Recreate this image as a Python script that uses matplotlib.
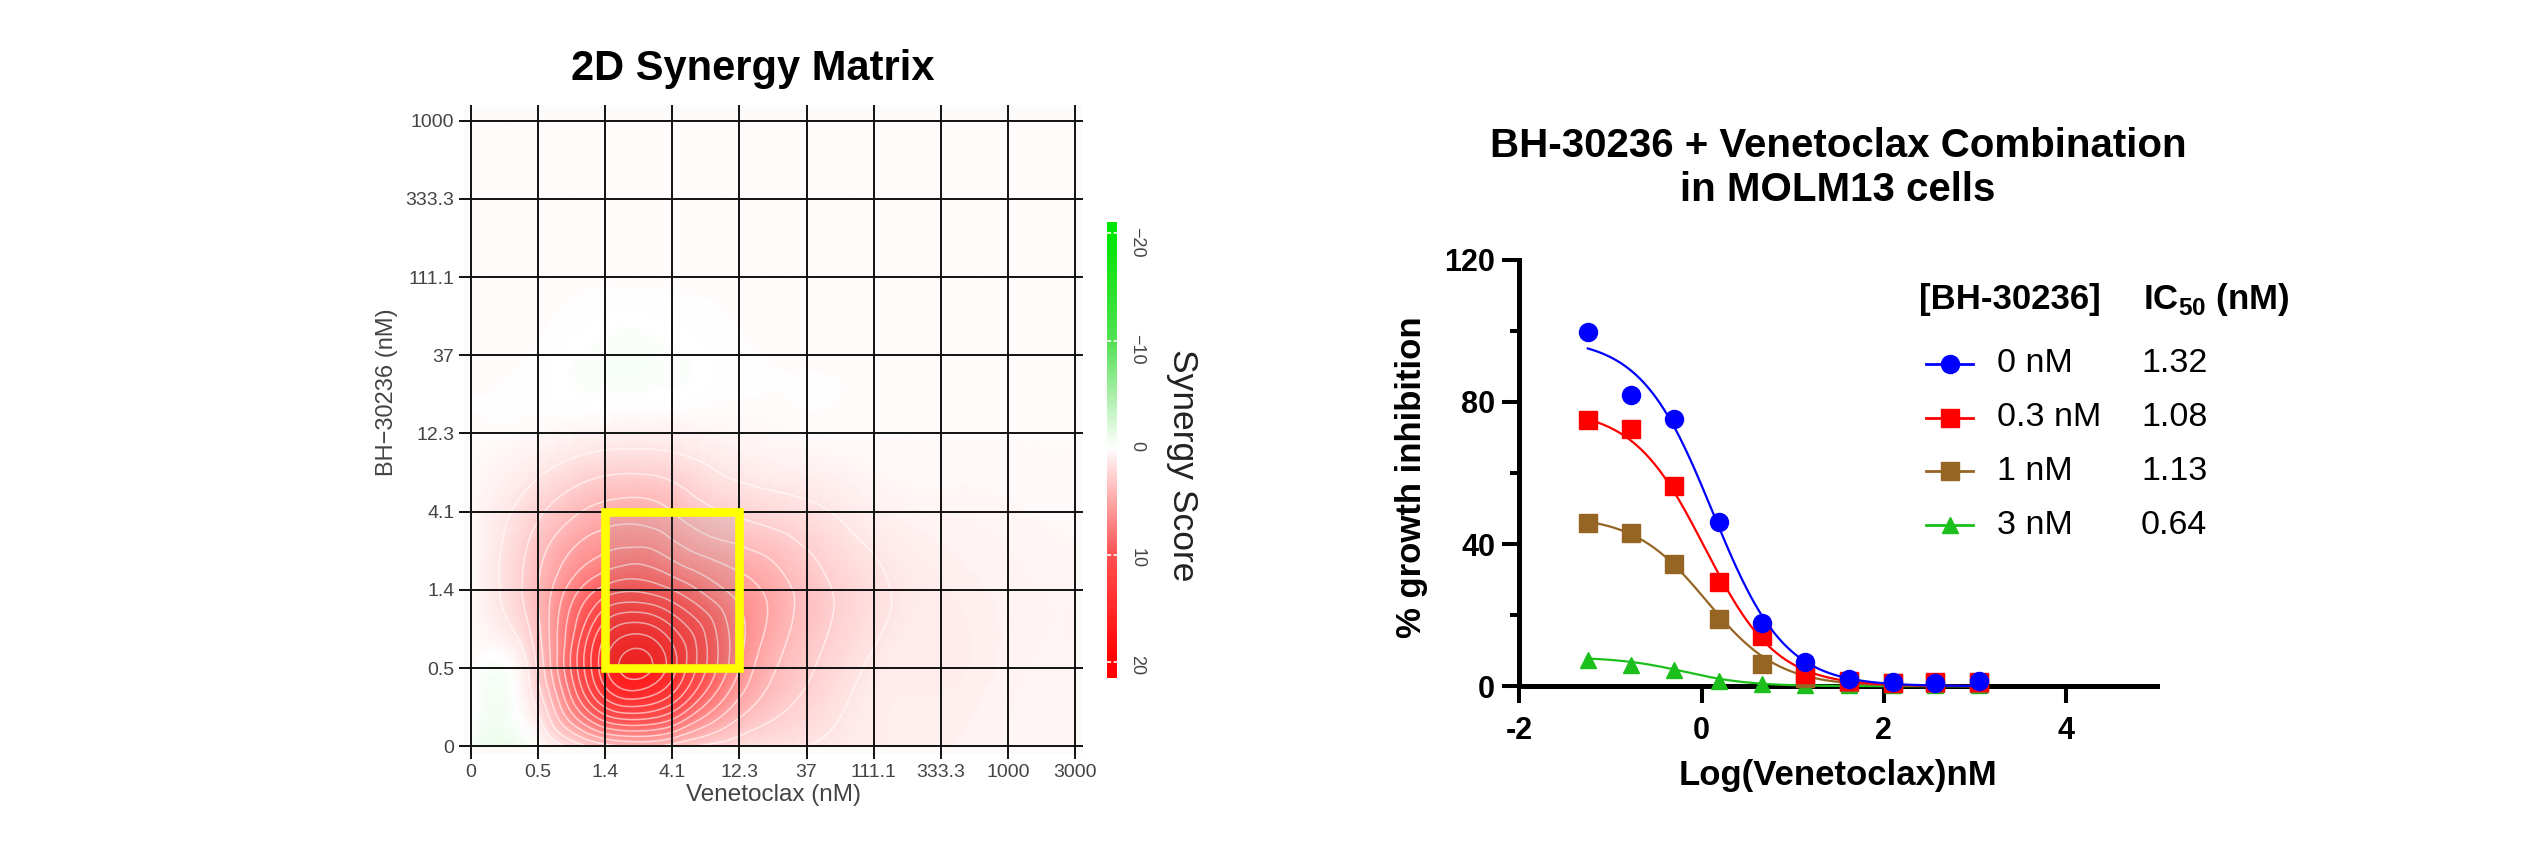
import numpy as np
import matplotlib
matplotlib.use('Agg')
import matplotlib.pyplot as plt
import matplotlib.tri as mtri
from matplotlib.colors import LinearSegmentedColormap
from matplotlib.patches import Rectangle
from matplotlib.lines import Line2D

plt.rcParams['font.family'] = ['Liberation Sans', 'DejaVu Sans']
plt.rcParams['mathtext.fontset'] = 'custom'
plt.rcParams['mathtext.rm'] = 'Liberation Sans'
plt.rcParams['mathtext.bf'] = 'Liberation Sans:bold'

# ---- 2D synergy matrix (left) ----
venetoclax_labels = ['0', '0.5', '1.4', '4.1', '12.3', '37', '111.1', '333.3', '1000', '3000']
bh_labels = ['0', '0.5', '1.4', '4.1', '12.3', '37', '111.1', '333.3', '1000']
# rows = BH-30236 dose (bottom to top), columns = Venetoclax dose
synergy = np.array([
    [-0.4, 0.0, 3.5, 3.5, 2.0, 1.5, 1.0, 0.8, 0.6, 0.5],
    [0.2, 3.0, 15.0, 14.5, 6.5, 3.0, 1.3, 1.0, 0.7, 0.6],
    [0.3, 4.0, 9.5, 9.0, 6.0, 3.5, 1.8, 1.0, 0.7, 0.6],
    [0.3, 2.5, 4.5, 4.0, 2.5, 1.8, 0.9, 0.6, 0.5, 0.4],
    [0.2, 0.4, 0.8, 0.8, 0.5, 0.3, 0.3, 0.3, 0.3, 0.3],
    [0.2, 0.1, -0.3, -0.2, 0.1, 0.2, 0.2, 0.2, 0.2, 0.2],
    [0.2, 0.2, 0.2, 0.2, 0.2, 0.2, 0.2, 0.2, 0.2, 0.2],
    [0.2, 0.2, 0.2, 0.2, 0.2, 0.2, 0.2, 0.2, 0.2, 0.2],
    [0.2, 0.2, 0.2, 0.2, 0.2, 0.2, 0.2, 0.2, 0.2, 0.2],
])
box_ven = (2, 4)
box_bh = (1, 3)
score_ticks = [-20, -10, 0, 10, 20]

# ---- dose response (right) ----
log_ven = [-1.25, -0.78, -0.30, 0.19, 0.66, 1.13, 1.62, 2.10, 2.56, 3.04]
bh_conc = ['0 nM', '0.3 nM', '1 nM', '3 nM']
ic50 = [1.32, 1.08, 1.13, 0.64]
fit_top = [98, 78, 48, 8.2]
fit_hill = [1.1, 1.1, 1.1, 1.2]
inhibition = [
    [99.6, 82.0, 75.1, 46.2, 17.7, 6.7, 1.9, 1.3, 1.0, 1.4],
    [74.9, 72.5, 56.4, 29.3, 14.2, 3.5, 1.6, 1.0, 1.3, 1.3],
    [46.0, 43.1, 34.3, 18.8, 6.3, 2.3, 1.2, 0.8, 0.8, 0.9],
    [7.5, 6.0, 4.5, 1.6, 0.6, 0.4, 0.3, 0.3, 0.3, 0.3],
]
colors = ['#0000ff', '#ff0000', '#966423', '#1cbf1c']
markers = ['o', 's', 's', '^']
msizes = [13, 13, 13, 12]

W, H = 2526, 843
fig = plt.figure(figsize=(W / 100, H / 100), dpi=100)


def box(x0, y0, x1, y1):
    return [x0 / W, 1 - y1 / H, (x1 - x0) / W, (y1 - y0) / H]


def px(x, y):
    return x / W, 1 - y / H


cmap = LinearSegmentedColormap.from_list('syn', [
    (0.0, '#00e600'), (0.25, '#52e052'), (0.375, '#a8eea8'), (0.5, '#ffffff'),
    (0.625, '#ffa8a8'), (0.75, '#ff5252'), (1.0, '#ff0000')])

ax = fig.add_axes(box(464.3, 105, 1083, 754.1))
ny, nx = synergy.shape
gx, gy = np.meshgrid(np.arange(nx, dtype=float), np.arange(ny, dtype=float))
idx = np.arange(nx * ny).reshape(ny, nx)
a, b = idx[:-1, :-1].ravel(), idx[:-1, 1:].ravel()
c, d = idx[1:, 1:].ravel(), idx[1:, :-1].ravel()
triangles = np.concatenate([np.stack([a, b, c], 1), np.stack([a, c, d], 1)])
tri = mtri.Triangulation(gx.ravel(), gy.ravel(), triangles)
tri_f, z_f = mtri.UniformTriRefiner(tri).refine_field(synergy.ravel(), subdiv=4)

ax.set_facecolor('#fdfafa')
ax.tripcolor(tri_f, z_f, shading='gouraud', cmap=cmap, vmin=-20, vmax=20)
ax.tricontour(tri_f, z_f, levels=np.arange(1.5, 20, 1.25), colors='white',
              linewidths=1.1, alpha=0.6)
ax.add_patch(Rectangle((box_ven[0], box_bh[0]), box_ven[1] - box_ven[0], box_bh[1] - box_bh[0],
                       facecolor=(0.45, 0.45, 0.45, 0.13), edgecolor='#ffff00', lw=6.2, zorder=4))
ax.set_xlim(-0.1, 9.12)
ax.set_ylim(-0.1, 8.2)
ax.set_xticks(range(nx), venetoclax_labels)
ax.set_yticks(range(ny), bh_labels)
ax.set_axisbelow(False)
ax.grid(True, color='#111111', lw=1.4)
ax.tick_params(length=3.6, width=1.4, color='#111111', labelcolor='#444444', labelsize=14, pad=3.5)
for s in ax.spines.values():
    s.set_visible(False)

fig.text(*px(753, 69), '2D Synergy Matrix', ha='center', va='center', fontsize=30, fontweight='bold')
fig.text(*px(774, 795), 'Venetoclax (nM)', ha='center', va='center', fontsize=17.5, color='#444444')
fig.text(*px(387, 392), 'BH\u221230236 (nM)', ha='center', va='center', rotation=90,
         fontsize=17, color='#444444')

# colour bar
cax = fig.add_axes(box(1107.3, 221.7, 1117.3, 678))
grad = np.linspace(-21.1, 21.5, 400)[:, None]
cax.imshow(grad, aspect='auto', cmap=cmap, vmin=-20, vmax=20, extent=[0, 1, 21.5, -21.1])
cax.set_ylim(21.5, -21.1)
cax.set_xticks([])
cax.yaxis.tick_right()
cax.set_yticks(score_ticks, [str(t).replace('-', '\u2212') for t in score_ticks])
cax.tick_params(axis='y', length=0, pad=8, labelsize=13, labelcolor='#444444', labelrotation=-90)
for t in score_ticks:
    cax.axhline(t, color='white', lw=1.2, ls=(0, (2.5, 1.5)))
for s in cax.spines.values():
    s.set_visible(False)
fig.text(*px(1182, 465), 'Synergy Score', rotation=-90, ha='center', va='center',
         fontsize=25.5, color='#222222')

# ---- right panel ----
ax2 = fig.add_axes(box(1519.5, 259.8, 2157.2, 686.2))
xs = np.linspace(log_ven[0], log_ven[-1], 300)
for k in range(len(bh_conc)):
    curve = fit_top[k] / (1 + 10 ** ((xs - np.log10(ic50[k])) * fit_hill[k]))
    z = 10 - 2 * k
    ax2.plot(xs, curve, color=colors[k], lw=1.6, zorder=z, clip_on=False)
    ax2.plot(log_ven, inhibition[k], ls='none', marker=markers[k], ms=msizes[k],
             color=colors[k], mec=colors[k], zorder=z + 1, clip_on=False)

ax2.set_xlim(-2, 5)
ax2.set_ylim(0, 120)
ax2.set_xticks([-2, 0, 2, 4], ['-2', '0', '2', '4'], fontsize=22, fontweight='bold')
ax2.set_yticks([0, 40, 80, 120], ['0', '40', '80', '120'], fontsize=22, fontweight='bold')
ax2.set_yticks([20, 60, 100], minor=True)
ax2.tick_params(which='major', length=12.5, width=2.9)
ax2.tick_params(axis='x', which='major', pad=9)
ax2.tick_params(axis='y', which='major', pad=5)
ax2.tick_params(which='minor', length=6.7, width=2.9)
for s in ['top', 'right']:
    ax2.spines[s].set_visible(False)
for s in ['left', 'bottom']:
    ax2.spines[s].set_linewidth(3.6)

fig.text(*px(1838, 168), 'BH-30236 + Venetoclax Combination\nin MOLM13 cells', ha='center',
         va='center', fontsize=29, fontweight='bold', linespacing=1.17)
fig.text(*px(1838, 776), 'Log(Venetoclax)nM', ha='center', va='center', fontsize=25,
         fontweight='bold')
fig.text(*px(1412, 477), '% growth inhibition', ha='center', va='center', rotation=90,
         fontsize=25, fontweight='bold')

# legend with IC50 column
lax = fig.add_axes([0, 0, 1, 1])
lax.set_xlim(0, W)
lax.set_ylim(H, 0)
lax.axis('off')
lax.text(1919, 300, '[BH-30236]', ha='left', va='center', fontsize=25, fontweight='bold')
lax.text(2143, 300, r'IC$_{\mathbf{50}}$ (nM)', ha='left', va='center', fontsize=25,
         fontweight='bold')
for k in range(len(bh_conc)):
    y = 364 + 53.7 * k
    lax.add_line(Line2D([1926, 1973], [y, y], color=colors[k], lw=2))
    lax.add_line(Line2D([1949.5], [y], ls='none', marker=markers[k], ms=msizes[k],
                        color=colors[k]))
    lax.text(1997, y, bh_conc[k], ha='left', va='center', fontsize=24.5)
    lax.text(2141, y, f'{ic50[k]:.2f}', ha='left', va='center', fontsize=24.5)

fig.savefig('out.png', dpi=100)
